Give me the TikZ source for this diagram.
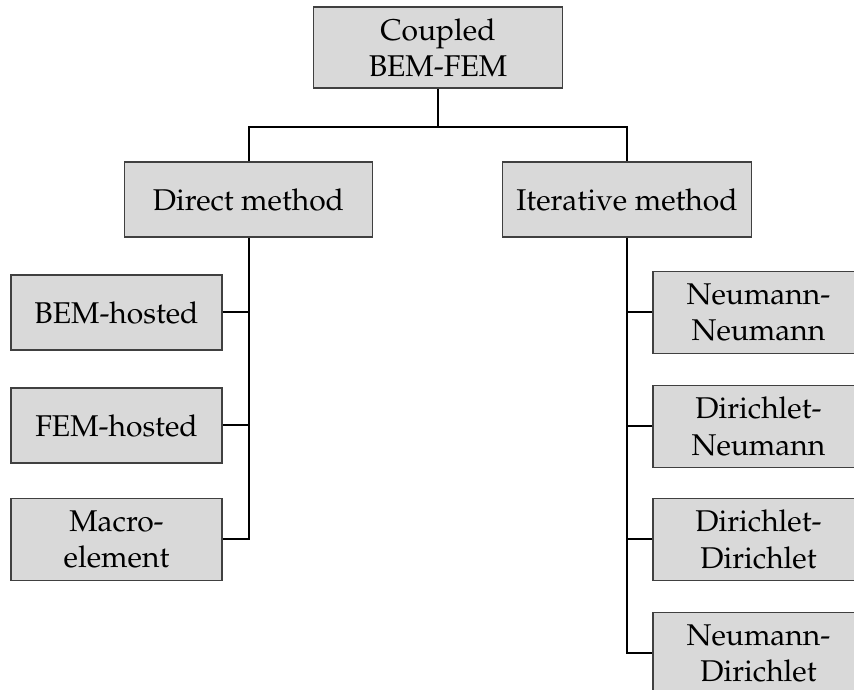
\documentclass[tikz,border=0pt]{standalone}
\usepackage[T1]{fontenc}
\usepackage{mathpazo}
\definecolor{boxfill}{HTML}{D9D9D9}
\definecolor{boxline}{HTML}{404040}
\begin{document}
\begin{tikzpicture}[x=0.4pt,y=-0.4pt,
  basebox/.style={draw=boxline, fill=boxfill, line width=0.5pt, align=center,
    inner sep=0pt, font=\fontsize{12}{14.5}\selectfont},
  onebox/.style={basebox, minimum width=84.4pt, minimum height=30pt},
  twobox/.style={basebox, minimum width=84.4pt, minimum height=32.6pt},
  midbox/.style={basebox, minimum width=99.4pt, minimum height=30pt},
  topbox/.style={basebox, minimum width=99.4pt, minimum height=32.4pt},
  conn/.style={line width=0.8pt, black}]
\useasboundingbox (0,0) rectangle (854,690);
\clip (0,0) rectangle (854,690);
% nodes
\node[topbox] (top) at (438,47.5) {Coupled\\BEM-FEM};
\node[midbox] (direct) at (248.5,199.5) {Direct method};
\node[midbox] (iter) at (627,199.5) {Iterative method};
\node[onebox] (bem) at (116.5,312.5) {BEM-hosted};
\node[onebox] (fem) at (116.5,425.5) {FEM-hosted};
\node[twobox] (macro) at (116.5,539.5) {Macro-\\element};
\node[twobox] (nn) at (758.5,312.5) {Neumann-\\Neumann};
\node[twobox] (dn) at (758.5,426.5) {Dirichlet-\\Neumann};
\node[twobox] (dd) at (758.5,539.5) {Dirichlet-\\Dirichlet};
\node[twobox] (nd) at (758.5,653.5) {Neumann-\\Dirichlet};
\coordinate (j) at (438,127);
% connectors
\draw[conn] (top.south) -- (j);
\draw[conn] (direct.north) -- (direct.north |- j) -- (iter.north |- j) -- (iter.north);
\draw[conn] (direct.south) -- (direct.south |- macro.east) -- (macro.east);
\draw[conn] (bem.east) -- (bem.east -| direct.south);
\draw[conn] (fem.east) -- (fem.east -| direct.south);
\draw[conn] (iter.south) -- (iter.south |- nd.west) -- (nd.west);
\draw[conn] (nn.west) -- (nn.west -| iter.south);
\draw[conn] (dn.west) -- (dn.west -| iter.south);
\draw[conn] (dd.west) -- (dd.west -| iter.south);
\end{tikzpicture}
\end{document}
